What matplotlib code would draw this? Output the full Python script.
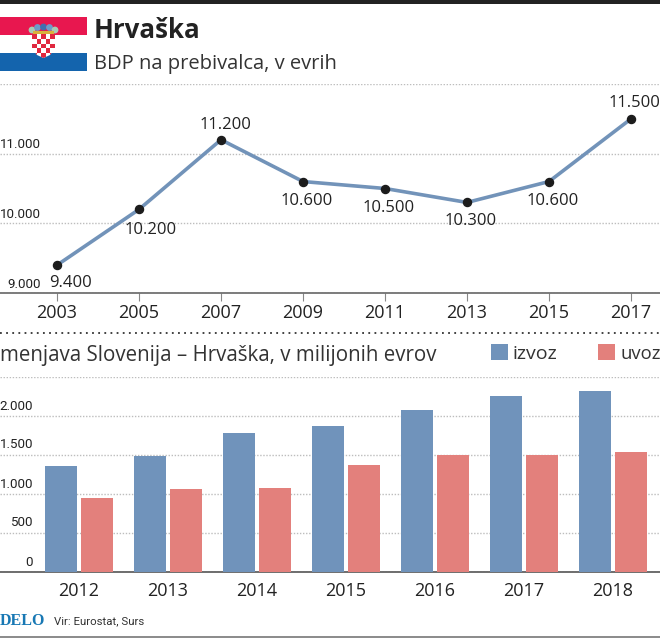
import matplotlib
matplotlib.use("Agg")
import matplotlib.pyplot as plt
from matplotlib.patches import Rectangle, Polygon, Circle
import numpy as np

W, H = 660, 638

# BDP na prebivalca
years = [2003, 2005, 2007, 2009, 2011, 2013, 2015, 2017]
gdp = [9400, 10200, 11200, 10600, 10500, 10300, 10600, 11500]
gdp_labels = ["9.400", "10.200", "11.200", "10.600", "10.500", "10.300", "10.600", "11.500"]
gdp_ticks = [9000, 10000, 11000, 12000]
gdp_tick_labels = ["9.000", "10.000", "11.000", ""]

# menjava
trade_years = ["2012", "2013", "2014", "2015", "2016", "2017", "2018"]
izvoz = [1360, 1487, 1782, 1872, 2077, 2256, 2320]
uvoz = [949, 1064, 1077, 1372, 1500, 1500, 1538]
trade_ticks = [0, 500, 1000, 1500, 2000, 2500]
trade_tick_labels = ["0", "500", "1.000", "1.500", "2.000", ""]

BLUE = "#7093bb"
RED = "#e3807c"
LINE = "#7293b9"
DARK = "#222222"
GRID = "#bdbdbd"
FONT = "Open Sans"
NARROW = "Roboto"

plt.rcParams["font.family"] = [FONT, "DejaVu Sans"]


def px_axes(fig, left, top, right, bottom):
    return fig.add_axes([left / W, 1 - bottom / H, (right - left) / W, (bottom - top) / H])


fig = plt.figure(figsize=(W / 100, H / 100), dpi=100)

# overlay in pixels for header, flag and footer
bg = fig.add_axes([0, 0, 1, 1])
bg.set_xlim(0, W)
bg.set_ylim(H, 0)
bg.axis("off")

bg.add_patch(Rectangle((0, 0), W, 3.5, color="#222222", lw=0))
bg.add_patch(Rectangle((0, 17), 87, 18, color="#e8174f", lw=0))
bg.add_patch(Rectangle((0, 53), 87, 18, color="#1464ad", lw=0))

# grb
shield = Polygon([(32, 34), (55, 34), (55, 48), (50, 55), (43.5, 58), (37, 55), (32, 48)],
                 closed=True, color="white", lw=0, zorder=3)
bg.add_patch(shield)
for r in range(5):
    for c in range(5):
        if (r + c) % 2 == 0:
            x0 = 32 + c * 4.6
            y0 = 34 + r * 4.8
            bg.add_patch(Rectangle((x0, y0), 4.6, 4.8, color="#e0283f", lw=0, zorder=4, clip_path=shield))
for x0, y0, col in zip([32, 37.5, 43.5, 49.5, 55], [30, 27.5, 27, 27.5, 30],
                       ["#a9cbb4", "#6d9cc8", "#3f6fb0", "#6d9cc8", "#a9cbb4"]):
    bg.add_patch(Circle((x0, y0), 3.4, color=col, lw=0, zorder=4))
bg.add_patch(Rectangle((33, 31), 21, 2.5, color="#d9b23c", lw=0, zorder=5))

bg.text(94, 30.5, "Hrvaška", fontsize=18.6, fontweight="bold", color=DARK, va="center", ha="left")
bg.text(94, 64, "BDP na prebivalca, v evrih", fontsize=14.5, color="#333333", va="center", ha="left")

bg.plot([0, W], [333, 333], color="#333333", lw=1.3, ls=(0, (1, 2.4)))
bg.text(0, 356, "menjava Slovenija – Hrvaška, v milijonih evrov", fontsize=14.8,
        color="#333333", va="center", ha="left")
bg.add_patch(Rectangle((491, 344), 17, 16, color=BLUE, lw=0))
bg.text(513, 354, "izvoz", fontsize=14, color="#333333", va="center", ha="left")
bg.add_patch(Rectangle((598, 344), 17, 16, color=RED, lw=0))
bg.text(620, 354, "uvoz", fontsize=13.3, color="#333333", va="center", ha="left")

bg.text(0, 621, "DELO", fontsize=11.5, fontweight="bold", color="#1878b4",
        family="Liberation Serif", va="center", ha="left")
bg.text(54, 621, "Vir: Eurostat, Surs", fontsize=8.2, color="#333333", family=NARROW,
        va="center", ha="left")
bg.plot([0, W], [637, 637], color="#777777", lw=1.2)

# zgornji graf
ax = px_axes(fig, 0, 84, W, 293)
ax.patch.set_alpha(0)
ax.set_xlim(2003 - 57 / 41, 2003 + 603 / 41)
ax.set_ylim(9000, 12000)
for s in ["top", "left", "right"]:
    ax.spines[s].set_visible(False)
ax.spines["bottom"].set_color("#666666")
ax.spines["bottom"].set_linewidth(1.2)
ax.set_yticks(gdp_ticks)
ax.set_yticklabels([])
ax.yaxis.grid(True, color=GRID, lw=1, ls=(0, (1, 1.2)))
ax.tick_params(axis="y", length=0)
ax.set_xticks(years)
ax.tick_params(axis="x", length=6, width=0.8, color="#888888", direction="out",
               labelsize=13, labelcolor=DARK, pad=2)
ax.set_axisbelow(True)
ax.plot(years, gdp, color=LINE, lw=2.6, zorder=3, solid_capstyle="round")
ax.plot(years, gdp, "o", color="#1c1c1c", ms=5.8, zorder=4, clip_on=False)

gdp_offsets = [(13, -18), (12, -21), (4, 15), (4, -19), (4, -19), (4, -19), (4, -19), (3, 16)]
for yr, val, lab, off in zip(years, gdp, gdp_labels, gdp_offsets):
    ax.annotate(lab, (yr, val), xytext=off, textcoords="offset pixels", ha="center",
                va="center", fontsize=12, color=DARK, zorder=5)
for val, lab in zip(gdp_ticks, gdp_tick_labels):
    ax.annotate(lab, (2003 - 57 / 41, val), xytext=(41, 9), textcoords="offset pixels",
                ha="right", va="center", fontsize=9.6, color=DARK, family=NARROW)

# spodnji graf
ax2 = px_axes(fig, 0, 377, W, 572)
ax2.patch.set_alpha(0)
ax2.set_xlim(-79 / 89, (W - 79) / 89)
ax2.set_ylim(0, 2500)
for s in ["top", "left", "right"]:
    ax2.spines[s].set_visible(False)
ax2.spines["bottom"].set_color("#555555")
ax2.spines["bottom"].set_linewidth(1.2)
ax2.set_yticks(trade_ticks)
ax2.set_yticklabels([])
ax2.yaxis.grid(True, color=GRID, lw=1, ls=(0, (1, 1.2)))
ax2.tick_params(axis="y", length=0)
ax2.set_axisbelow(True)
pos = np.arange(len(trade_years))
bw = 32 / 89
off = 17.8 / 89
ax2.bar(pos - off, izvoz, bw, color=BLUE, zorder=3)
ax2.bar(pos + off, uvoz, bw, color=RED, zorder=3)
ax2.set_xticks(pos)
ax2.set_xticklabels(trade_years)
ax2.tick_params(axis="x", length=0, labelsize=13, labelcolor=DARK, pad=7)
for val, lab in zip(trade_ticks, trade_tick_labels):
    ax2.annotate(lab, (-79 / 89, val), xytext=(33, 10), textcoords="offset pixels",
                 ha="right", va="center", fontsize=9.6, color=DARK, family=NARROW)

fig.savefig("out.png", dpi=100)
